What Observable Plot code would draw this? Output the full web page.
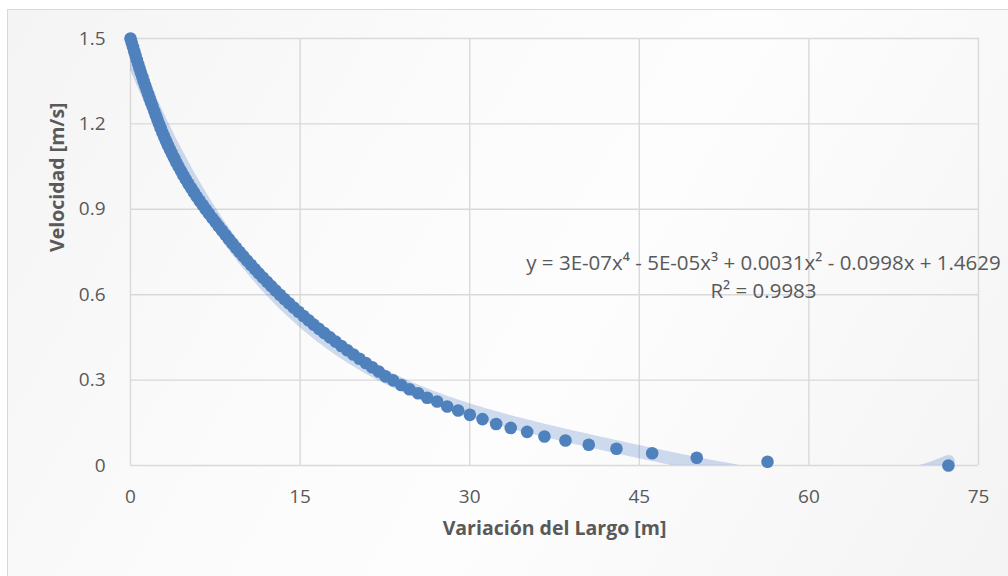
<!DOCTYPE html>
<html><head><meta charset="utf-8">
<script src="https://cdn.jsdelivr.net/npm/d3@7"></script>
<script src="https://cdn.jsdelivr.net/npm/@observablehq/plot@0.6"></script>
<style>
html,body{margin:0;padding:0;width:1008px;height:576px;overflow:hidden;background:#fff}
#frame{position:absolute;left:7px;top:9px;width:1020px;height:600px;border:1px solid #d9d9d9;
  background:linear-gradient(120deg,#f4f4f4 0%,#fbfbfb 35%,#fdfdfd 55%,#f3f3f3 100%)}
#chart{position:absolute;left:0;top:0}
</style></head>
<body>
<div id="frame"></div>
<div id="chart"></div>
<script>
// Variación del Largo [m]
const largo = [
  0,0.11,0.22,0.33,0.45,0.56,0.68,0.80,0.92,1.05,
  1.17,1.30,1.43,1.56,1.69,1.82,1.96,2.10,2.24,2.38,
  2.52,2.67,2.82,2.98,3.14,3.31,3.49,3.67,3.86,4.05,
  4.25,4.46,4.67,4.89,5.12,5.36,5.60,5.85,6.11,6.38,
  6.65,6.93,7.22,7.51,7.80,8.10,8.40,8.71,9.02,9.33,
  9.65,9.98,10.31,10.65,11.00,11.35,11.71,12.08,12.45,12.83,
  13.22,13.61,14.02,14.43,14.86,15.30,15.75,16.20,16.67,17.15,
  17.64,18.14,18.65,19.18,19.71,20.25,20.81,21.37,21.95,
  22.55,23.23,23.94,24.67,25.44,26.24,27.12,28.01,28.98,30.01,
  31.13,32.34,33.63,35.08,36.61,38.47,40.53,42.98,46.14,50.08,
  56.34,72.34
];
// Velocidad [m/s]
const velocidad = [
  1.5,1.485,1.47,1.455,1.44,1.425,1.41,1.395,1.38,1.365,
  1.35,1.335,1.32,1.305,1.29,1.275,1.26,1.245,1.23,1.215,
  1.2,1.185,1.17,1.155,1.14,1.125,1.11,1.095,1.08,1.065,
  1.05,1.035,1.02,1.005,0.99,0.975,0.96,0.945,0.93,0.915,
  0.9,0.885,0.87,0.855,0.84,0.825,0.81,0.795,0.78,0.765,
  0.75,0.735,0.72,0.705,0.69,0.675,0.66,0.645,0.63,0.615,
  0.6,0.585,0.57,0.555,0.54,0.525,0.51,0.495,0.48,0.465,
  0.45,0.435,0.42,0.405,0.39,0.375,0.36,0.345,0.33,
  0.313,0.299,0.283,0.268,0.254,0.238,0.225,0.207,0.193,0.178,
  0.163,0.146,0.132,0.118,0.102,0.088,0.073,0.059,0.043,0.027,
  0.013,0
];
const xTicks = [0,15,30,45,60,75];
const yTicks = [0,0.3,0.6,0.9,1.2,1.5];
const xTitle = "Variación del Largo [m]";
const yTitle = "Velocidad [m/s]";
const eqLine = "y = 3E-07x⁴ - 5E-05x³ + 0.0031x² - 0.0998x + 1.4629";
const r2Line = "R² = 0.9983";

const data = largo.map((x,i)=>({x, y: velocidad[i]}));

// 4th-order polynomial least-squares trendline (as in the original)
function polyfit(xs, ys, deg){
  const s = d3.max(xs), n = deg+1;
  const A = Array.from({length:n},()=>new Array(n+1).fill(0));
  xs.forEach((xv,k)=>{
    const t = xv/s, p=[]; for(let j=0;j<n;j++) p.push(Math.pow(t,j));
    for(let r=0;r<n;r++){ for(let c=0;c<n;c++) A[r][c]+=p[r]*p[c]; A[r][n]+=p[r]*ys[k]; }
  });
  for(let i=0;i<n;i++){
    let m=i; for(let r=i+1;r<n;r++) if(Math.abs(A[r][i])>Math.abs(A[m][i])) m=r;
    [A[i],A[m]]=[A[m],A[i]];
    for(let r=0;r<n;r++){ if(r===i) continue; const f=A[r][i]/A[i][i]; for(let c=i;c<=n;c++) A[r][c]-=f*A[i][c]; }
  }
  const coef = A.map((row,i)=>row[n]/row[i]);
  return x => { const t=x/s; let v=0; for(let j=n-1;j>=0;j--) v=v*t+coef[j]; return v; };
}
const f = polyfit(largo, velocidad, 4);
const xmax = d3.max(largo);
const trend = d3.range(0, 301).map(i => { const x = xmax*i/300; return {x, y: f(x)}; });

const gray = "#595959";
const font = "'Open Sans', 'Noto Sans', sans-serif";

const chart = Plot.plot({
  width: 1008, height: 576,
  marginLeft: 130, marginRight: 30, marginTop: 38, marginBottom: 111,
  style: {background: "transparent", fontFamily: font, color: gray},
  x: {domain: [0,75], ticks: xTicks},
  y: {domain: [0,1.5], ticks: yTicks},
  marks: [
    Plot.gridX(xTicks, {stroke: "#d9d9d9", strokeOpacity: 1, strokeWidth: 1.4}),
    Plot.gridY(yTicks, {stroke: "#d9d9d9", strokeOpacity: 1, strokeWidth: 1.4}),
    Plot.line(trend, {x: "x", y: "y", stroke: "#4472c4", strokeOpacity: 0.25, strokeWidth: 13,
      strokeLinecap: "round", clip: true}),
    Plot.dot(data, {x: "x", y: "y", r: 6.3, fill: "#4f81bd", stroke: "none"}),
    Plot.axisX({ticks: xTicks, tickSize: 0, tickPadding: 24, fontSize: 19, label: null,
      tickFormat: d => String(d), fill: gray}),
    Plot.axisY({ticks: yTicks, tickSize: 0, tickPadding: 25, fontSize: 19, label: null,
      tickFormat: d => String(d), fill: gray}),
    Plot.text([xTitle], {frameAnchor: "bottom", dy: 69, text: d=>d, fontSize: 19.5, fontWeight: "bold", fill: gray}),
    Plot.text([yTitle], {frameAnchor: "left", dx: -73, rotate: -90, text: d=>d, fontSize: 19.5, fontWeight: "bold", fill: gray}),
    Plot.text([eqLine], {frameAnchor: "top-left", dx: 633, dy: 217, textAnchor: "middle", text: d=>d, fontSize: 20.5, fill: gray}),
    Plot.text([r2Line], {frameAnchor: "top-left", dx: 633, dy: 245, textAnchor: "middle", text: d=>d, fontSize: 20.5, fill: gray})
  ]
});
document.getElementById("chart").append(chart);
</script>
</body></html>
